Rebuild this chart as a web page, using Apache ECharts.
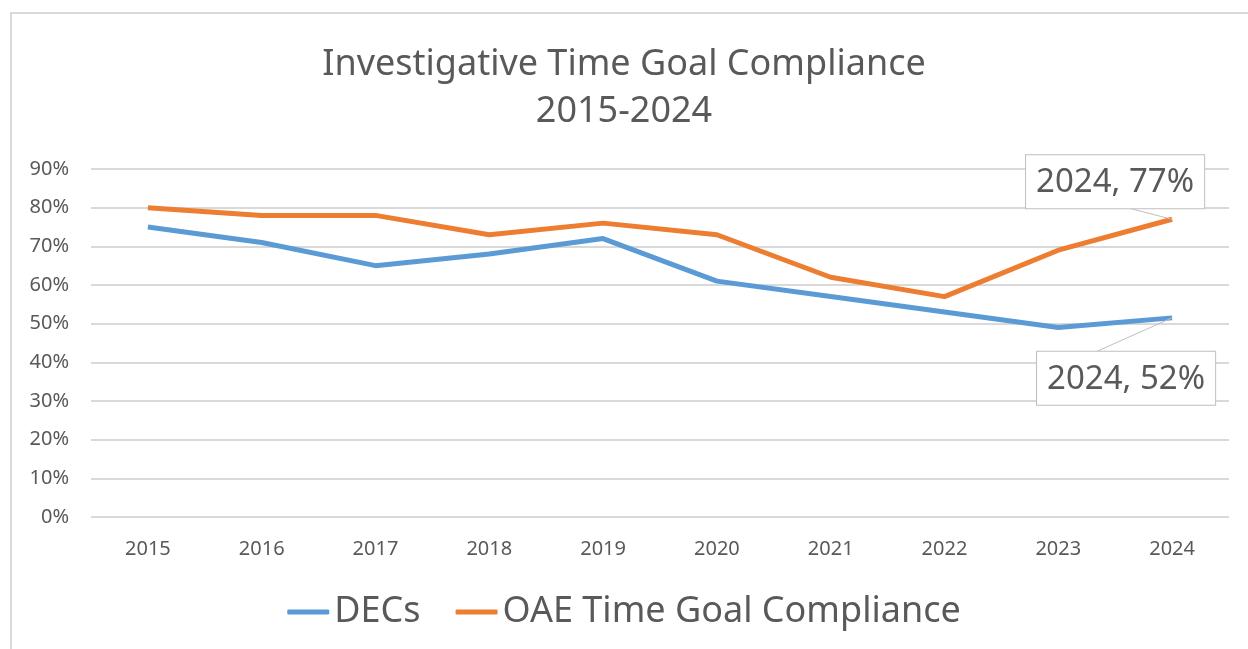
<!DOCTYPE html>
<html lang="en">

<head>
    <meta charset="UTF-8">
    <title>Investigative Time Goal Compliance</title>
    <script src="https://cdn.jsdelivr.net/npm/echarts@6/dist/echarts.min.js"></script>
    <style>
        * {
            padding: 0;
            margin: 0;
        }

        html,
        body {
            width: 1248px;
            height: 649px;
            overflow: hidden;
            background: #fff;
        }

        #frame {
            position: absolute;
            left: 10px;
            top: 12px;
            width: 1400px;
            height: 800px;
            border-left: 2px solid #d9d9d9;
            border-top: 2px solid #d9d9d9;
        }

        #chart {
            position: absolute;
            left: 0;
            top: 0;
            width: 1248px;
            height: 649px;
        }
    </style>
</head>

<body>
    <div id="frame"></div>
    <div id="chart"></div>
</body>

</html>
<script>
    // data
    let years = ['2015', '2016', '2017', '2018', '2019', '2020', '2021', '2022', '2023', '2024'];
    let decs = [75, 71, 65, 68, 72, 61, 57, 53, 49, 51.5];
    let oae = [80, 78, 78, 73, 76, 73, 62, 57, 69, 77];
    let yTicks = [0, 10, 20, 30, 40, 50, 60, 70, 80, 90];

    let font = 'Noto Sans';
    let textColor = '#595959';

    var myChart = echarts.init(document.getElementById('chart'), null, { renderer: 'canvas' });

    // callout label shown only on the last point
    function lastLabel(data, pos) {
        return data.map(function (v, i) {
            if (i !== data.length - 1) return v;
            return {
                value: v,
                label: {
                    show: true,
                    position: pos,
                    formatter: function (p) {
                        return years[p.dataIndex] + ', ' + Math.round(p.value) + '%';
                    },
                    fontFamily: font,
                    fontSize: 33,
                    color: textColor,
                    backgroundColor: '#fff',
                    borderColor: '#bfbfbf',
                    borderWidth: 1,
                    padding: [11, 10, 9, 10]
                },
                labelLine: {
                    show: true,
                    lineStyle: { color: '#bfbfbf', width: 1 }
                }
            };
        });
    }

    option = {
        animation: false,
        title: {
            text: 'Investigative Time Goal Compliance\n2015-2024',
            left: 'center',
            top: 36,
            textStyle: {
                fontFamily: font,
                fontSize: 36,
                fontWeight: 'normal',
                color: textColor,
                lineHeight: 47
            }
        },
        legend: {
            bottom: 14,
            left: 'center',
            icon: 'roundRect',
            itemWidth: 42,
            itemHeight: 5,
            itemGap: 35,
            textStyle: {
                fontFamily: font,
                fontSize: 36,
                color: textColor
            },
            data: ['DECs', 'OAE Time Goal Compliance']
        },
        grid: {
            left: 91,
            right: 19,
            top: 169,
            bottom: 132
        },
        xAxis: {
            type: 'category',
            data: years,
            boundaryGap: true,
            axisTick: { show: false },
            axisLine: { show: false },
            axisLabel: {
                fontFamily: font,
                fontSize: 20,
                color: textColor,
                margin: 22
            }
        },
        yAxis: {
            type: 'value',
            min: yTicks[0],
            max: yTicks[yTicks.length - 1],
            interval: 10,
            axisLine: { show: false },
            axisTick: { show: false },
            splitLine: {
                lineStyle: { color: '#d9d9d9', width: 2 }
            },
            axisLabel: {
                fontFamily: font,
                fontSize: 20,
                color: textColor,
                margin: 22,
                formatter: '{value}%'
            }
        },
        series: [
            {
                name: 'DECs',
                type: 'line',
                showSymbol: true,
                symbol: 'circle',
                symbolSize: 0,
                color: '#5b9bd5',
                lineStyle: { width: 5, color: '#5b9bd5' },
                data: lastLabel(decs, 'bottom'),
                labelLayout: function (p) {
                    return { dx: -46, dy: 29 };
                }
            },
            {
                name: 'OAE Time Goal Compliance',
                type: 'line',
                showSymbol: true,
                symbol: 'circle',
                symbolSize: 0,
                color: '#ed7d31',
                lineStyle: { width: 5, color: '#ed7d31' },
                data: lastLabel(oae, 'top'),
                labelLayout: function (p) {
                    return { dx: -57, dy: -6 };
                }
            }
        ]
    };
    myChart.setOption(option);
</script>
